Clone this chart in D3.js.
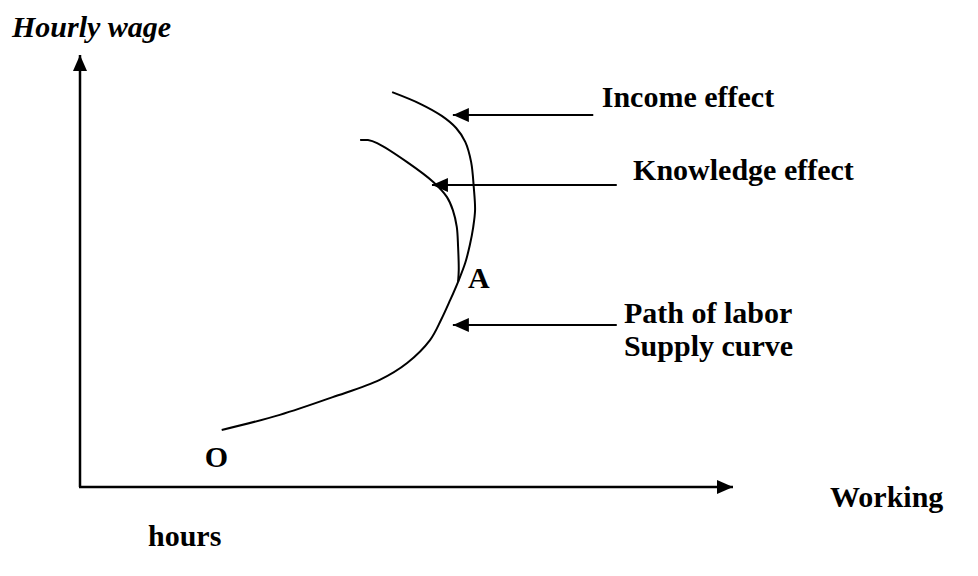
<!DOCTYPE html>
<html>
<head>
<meta charset="utf-8">
<script src="https://cdn.jsdelivr.net/npm/d3@7"></script>
<style>
  html, body { margin: 0; padding: 0; background: #fff; }
  svg { display: block; }
  text { font-family: "Liberation Serif", "Times New Roman", "DejaVu Serif", serif; }
</style>
</head>
<body>
<svg id="chart"></svg>
<script>
// Diagram values, in axis units (hours 0-100 across, wage 0-100 up)
const supplyHours = [21.7, 30.6, 38.7, 45.9, 50.1, 53.6, 55.3, 56.7, 57.9, 59.0, 59.7, 60.2, 60.5, 60.3, 59.9, 59.0, 57.6, 55.4, 52.1, 47.8];
const supplyWage = [13.2, 16.7, 20.8, 24.8, 28.7, 34.0, 38.7, 43.3, 47.5, 51.9, 56.0, 60.0, 64.1, 69.4, 75.2, 79.9, 83.1, 85.9, 88.7, 91.4];

const knowledgeHours = [42.9, 44.1, 45.5, 50.1, 54.1, 56.2, 57.1, 57.7, 57.9, 58.0, 57.9];
const knowledgeWage = [80.3, 80.3, 79.6, 75.2, 70.6, 67.1, 64.1, 60.2, 55.6, 50.2, 47.5];

// pointer arrows: tip near the curve, tail at the label
const arrowNames = ["Income effect", "Knowledge effect", "Path of labor"];
const arrowTipHours = [57.1, 53.9, 57.1];
const arrowTailHours = [78.6, 82.2, 82.2];
const arrowWage = [86.1, 69.9, 37.5];

// label text and anchor (left edge, baseline)
const labelLines = [["Income effect"], ["Knowledge effect"], ["Path of labor", "Supply curve"]];
const labelHours = [79.9, 84.7, 83.3];
const labelWage = [88.0, 71.1, 38.0];

const pointNames = ["A", "O"];
const pointHours = [59.4, 19.1];
const pointWage = [46.1, 4.6];

const WIDTH = 978;
const HEIGHT = 576;

const svg = d3.select("#chart")
  .attr("width", WIDTH)
  .attr("height", HEIGHT);

const x = d3.scaleLinear().domain([0, 100]).range([80, 733]);
const y = d3.scaleLinear().domain([0, 100]).range([487, 55]);

// filled arrow heads
const defs = svg.append("defs");
defs.append("marker")
  .attr("id", "head")
  .attr("markerUnits", "userSpaceOnUse")
  .attr("viewBox", "0 0 16 14")
  .attr("refX", 16)
  .attr("refY", 7)
  .attr("markerWidth", 16)
  .attr("markerHeight", 14)
  .attr("orient", "auto")
  .append("path")
  .attr("d", "M0,0 L16,7 L0,14 Z")
  .attr("fill", "#000");

// axes
const gAxes = svg.append("g");
gAxes.append("line")
  .attr("x1", x(0)).attr("y1", y(0))
  .attr("x2", x(0)).attr("y2", y(100))
  .attr("stroke", "#000")
  .attr("stroke-width", 2.5)
  .attr("marker-end", "url(#head)");
gAxes.append("line")
  .attr("x1", x(0) - 1).attr("y1", y(0))
  .attr("x2", x(100)).attr("y2", y(0))
  .attr("stroke", "#000")
  .attr("stroke-width", 2.5)
  .attr("marker-end", "url(#head)");

// curves
const curveLine = d3.line()
  .x((d) => x(d[0]))
  .y((d) => y(d[1]))
  .curve(d3.curveCatmullRom.alpha(0.5));

const supply = supplyHours.map((h, i) => [h, supplyWage[i]]);
const knowledge = knowledgeHours.map((h, i) => [h, knowledgeWage[i]]);

svg.append("path")
  .attr("d", curveLine(supply))
  .attr("fill", "none")
  .attr("stroke", "#000")
  .attr("stroke-width", 2);

svg.append("path")
  .attr("d", curveLine(knowledge))
  .attr("fill", "none")
  .attr("stroke", "#000")
  .attr("stroke-width", 2);

// pointer arrows
svg.selectAll("line.pointer")
  .data(arrowNames)
  .enter()
  .append("line")
  .attr("class", "pointer")
  .attr("x1", (d, i) => x(arrowTailHours[i]))
  .attr("x2", (d, i) => x(arrowTipHours[i]))
  .attr("y1", (d, i) => y(arrowWage[i]))
  .attr("y2", (d, i) => y(arrowWage[i]))
  .attr("stroke", "#000")
  .attr("stroke-width", 2)
  .attr("marker-end", "url(#head)");

// labels
const labels = svg.selectAll("text.label")
  .data(labelLines)
  .enter()
  .append("text")
  .attr("class", "label")
  .attr("x", (d, i) => x(labelHours[i]))
  .attr("y", (d, i) => y(labelWage[i]))
  .style("font-size", "30px")
  .style("font-weight", "bold");

labels.selectAll("tspan")
  .data((d) => d)
  .enter()
  .append("tspan")
  .attr("x", function () { return d3.select(this.parentNode).attr("x"); })
  .attr("dy", (d, i) => (i === 0 ? 0 : 33))
  .text((d) => d);

svg.selectAll("text.point")
  .data(pointNames)
  .enter()
  .append("text")
  .attr("class", "point")
  .attr("x", (d, i) => x(pointHours[i]))
  .attr("y", (d, i) => y(pointWage[i]))
  .style("font-size", "30px")
  .style("font-weight", "bold")
  .text((d) => d);

// axis titles
svg.append("text")
  .attr("x", 12)
  .attr("y", 37)
  .style("font-size", "30px")
  .style("font-weight", "bold")
  .style("font-style", "italic")
  .text("Hourly wage");

svg.append("text")
  .attr("x", 830)
  .attr("y", 507)
  .style("font-size", "30px")
  .style("font-weight", "bold")
  .text("Working");

svg.append("text")
  .attr("x", 148)
  .attr("y", 546)
  .style("font-size", "30px")
  .style("font-weight", "bold")
  .text("hours");
</script>
</body>
</html>
